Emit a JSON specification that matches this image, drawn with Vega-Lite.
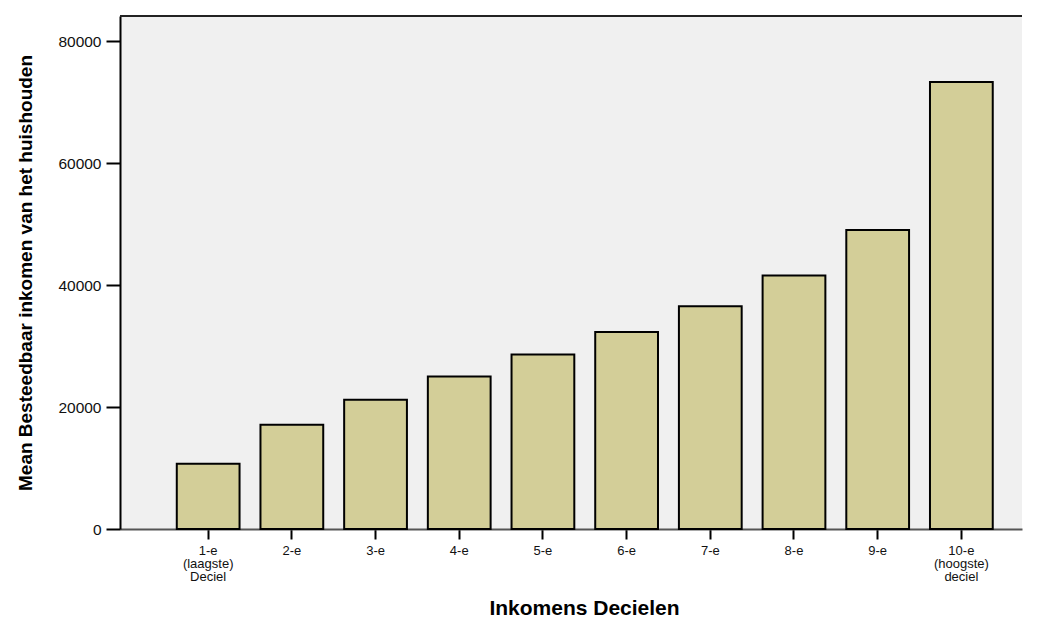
{
  "$schema": "https://vega.github.io/schema/vega-lite/v6.json",
  "autosize": "none",
  "padding": {"left": 120, "top": 16, "right": 16, "bottom": 88},
  "width": 902,
  "height": 513,
  "background": "white",
  "config": {
    "view": {"fill": "#f0f0f0", "stroke": null},
    "font": "Liberation Sans"
  },
  "data": {
    "values": [
      {"deciel": "1-e|(laagste)|Deciel", "inkomen": 10700},
      {"deciel": "2-e", "inkomen": 17100},
      {"deciel": "3-e", "inkomen": 21200},
      {"deciel": "4-e", "inkomen": 25000},
      {"deciel": "5-e", "inkomen": 28600},
      {"deciel": "6-e", "inkomen": 32300},
      {"deciel": "7-e", "inkomen": 36500},
      {"deciel": "8-e", "inkomen": 41550},
      {"deciel": "9-e", "inkomen": 49000},
      {"deciel": "10-e|(hoogste)|deciel", "inkomen": 73300}
    ]
  },
  "layer": [
    {
      "mark": {"type": "bar", "fill": "#d3ce98", "stroke": "black", "strokeWidth": 2},
      "encoding": {
        "x": {
          "field": "deciel",
          "type": "nominal",
          "sort": null,
          "title": "Inkomens Decielen",
          "scale": {"paddingInner": 0.25, "paddingOuter": 0.514, "align": 0.66},
          "axis": {
            "labelExpr": "split(datum.label, '|')",
            "labelAngle": 0,
            "labelFontSize": 13,
            "labelColor": "#111",
            "labelLineHeight": 13,
            "labelPadding": 5,
            "tickSize": 10,
            "tickColor": "black",
            "tickWidth": 2,
            "domainColor": "#555",
            "domainWidth": 2,
            "titleFontSize": 21,
            "titleFontWeight": "bold",
            "titleX": 464,
            "titleY": 85,
            "titleBaseline": "alphabetic",
            "titleColor": "black"
          }
        },
        "y": {
          "field": "inkomen",
          "type": "quantitative",
          "title": "Mean Besteedbaar inkomen van het huishouden",
          "scale": {"domain": [0, 84100], "nice": false},
          "axis": {
            "values": [0, 20000, 40000, 60000, 80000],
            "format": "d",
            "grid": false,
            "tickSize": 14,
            "tickColor": "black",
            "tickWidth": 2,
            "domainColor": "black",
            "domainWidth": 2,
            "labelFontSize": 15.5,
            "labelColor": "#111",
            "labelPadding": 5,
            "titleFontSize": 19,
            "titleFontWeight": "bold",
            "titleColor": "black",
            "titlePadding": 22
          }
        }
      }
    },
    {
      "mark": {"type": "rule", "color": "#222", "strokeWidth": 2},
      "encoding": {"y": {"datum": 84100}}
    }
  ]
}
